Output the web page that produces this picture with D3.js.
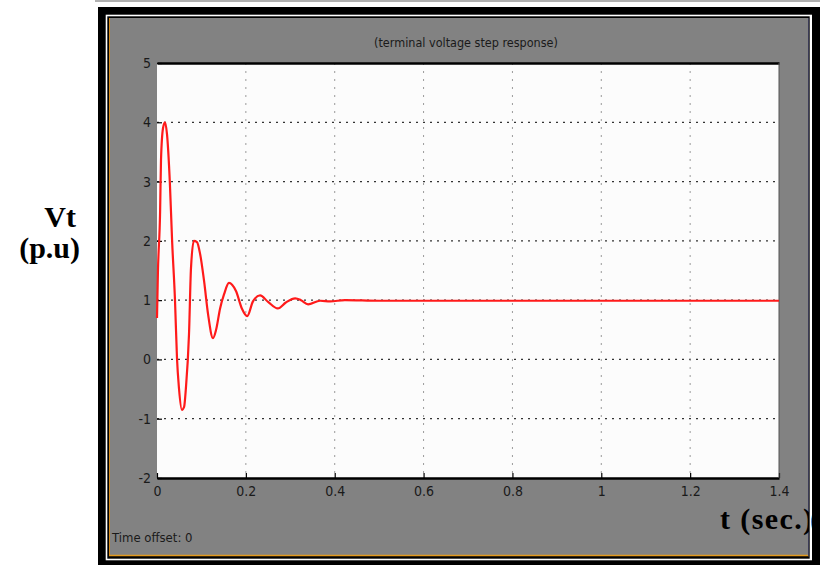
<!DOCTYPE html>
<html>
<head>
<meta charset="utf-8">
<script src="https://cdn.jsdelivr.net/npm/d3@7"></script>
<style>
  html, body { margin: 0; padding: 0; background: #ffffff; }
  svg { display: block; }
</style>
</head>
<body>
<svg id="chart" width="820" height="565"></svg>
<script>
// ---- data ----
const timeValues = [0, 0.002, 0.007, 0.009, 0.0135, 0.018, 0.0225, 0.029, 0.034, 0.0405, 0.045, 0.0495,
  0.056, 0.061, 0.065, 0.072, 0.0765, 0.083, 0.09, 0.097, 0.106, 0.115, 0.126, 0.133, 0.142, 0.151,
  0.162, 0.169, 0.178, 0.191, 0.203, 0.216, 0.232, 0.25, 0.272, 0.29, 0.311, 0.324, 0.34, 0.367,
  0.39, 0.423, 0.5, 0.8, 1.1, 1.4];
const voltageValues = [0.7, 1.45, 2.5, 3.36, 3.9, 4.0, 3.8, 2.97, 2.0, 1.0, 0.02, -0.49,
  -0.85, -0.8, -0.49, 0.42, 1.54, 2.0, 1.98, 1.78, 1.32, 0.76, 0.36, 0.5, 0.86, 1.1,
  1.29, 1.26, 1.15, 0.86, 0.73, 0.98, 1.08, 0.97, 0.86, 0.96, 1.03, 1.0, 0.93, 0.99,
  0.98, 1.0, 0.99, 0.99, 0.99, 0.99];
const xTicks = [0, 0.2, 0.4, 0.6, 0.8, 1, 1.2, 1.4];
const xTickLabels = ["0", "0.2", "0.4", "0.6", "0.8", "1", "1.2", "1.4"];
const yTicks = [-2, -1, 0, 1, 2, 3, 4, 5];
const yTickLabels = ["-2", "-1", "0", "1", "2", "3", "4", "5"];
const titleText = "(terminal voltage step response)";
const offsetText = "Time offset:  0";
const yLabelLines = ["Vt", "(p.u)"];
const xLabelText = "t (sec.)";

// ---- layout ----
const svg = d3.select("#chart");
const plot = { left: 157, right: 779, top: 63, bottom: 478 };

const x = d3.scaleLinear().domain([0, 1.4]).range([plot.left, plot.right]);
const y = d3.scaleLinear().domain([-2, 5]).range([plot.bottom, plot.top]);

// top thin gray strip
svg.append("rect").attr("x", 95).attr("y", 0).attr("width", 725).attr("height", 2).attr("fill", "#b0b0b0");

// outer black frame
svg.append("rect").attr("x", 98).attr("y", 7).attr("width", 722).attr("height", 558).attr("fill", "#000");
// white inner rule
svg.append("rect").attr("x", 106.5).attr("y", 15.5).attr("width", 705).attr("height", 544)
  .attr("fill", "none").attr("stroke", "#fff").attr("stroke-width", 1.6);
// gray panel
svg.append("rect").attr("x", 109).attr("y", 18).attr("width", 700).attr("height", 538).attr("fill", "#828282");
// orange edges
svg.append("line").attr("x1", 109.5).attr("x2", 109.5).attr("y1", 18).attr("y2", 556)
  .attr("stroke", "#d98c1a").attr("stroke-width", 1);
svg.append("line").attr("x1", 109).attr("x2", 809).attr("y1", 555.5).attr("y2", 555.5)
  .attr("stroke", "#e39a1f").attr("stroke-width", 1.5);
svg.append("line").attr("x1", 808.5).attr("x2", 808.5).attr("y1", 18).attr("y2", 556)
  .attr("stroke", "#3a3a55").attr("stroke-width", 1);

// plot background
svg.append("rect").attr("x", plot.left).attr("y", plot.top)
  .attr("width", plot.right - plot.left).attr("height", plot.bottom - plot.top)
  .attr("fill", "#fcfcfc");

// grid lines
const grid = svg.append("g");
grid.selectAll("line.h").data(yTicks.filter(d => d > -2 && d < 5)).enter().append("line")
  .attr("x1", plot.left).attr("x2", plot.right)
  .attr("y1", d => y(d)).attr("y2", d => y(d))
  .attr("stroke", "#333").attr("stroke-width", 1.3).attr("stroke-dasharray", "2,5");
grid.selectAll("line.v").data(xTicks.filter(d => d > 0 && d < 1.4)).enter().append("line")
  .attr("x1", d => x(d)).attr("x2", d => x(d))
  .attr("y1", plot.top).attr("y2", plot.bottom)
  .attr("stroke", "#9a9a9a").attr("stroke-width", 1).attr("stroke-dasharray", "2,6");

// axes with ticks
const tickFont = "'Liberation Sans Narrow','DejaVu Sans Condensed',sans-serif";
const xAxis = d3.axisBottom(x).tickValues(xTicks).tickFormat((d, i) => xTickLabels[i])
  .tickSizeInner(-5).tickSizeOuter(0).tickPadding(8);
const gx = svg.append("g").attr("transform", `translate(0,${plot.bottom})`).call(xAxis);
gx.select(".domain").attr("stroke", "#000").attr("stroke-width", 2.5);
gx.selectAll(".tick line").attr("stroke", "#000").attr("stroke-width", 1.2);
gx.selectAll(".tick text").attr("font-family", tickFont)
  .attr("font-size", 14).attr("fill", "#1a1a1a");

const gxTop = svg.append("g").attr("transform", `translate(0,${plot.top})`)
  .call(d3.axisTop(x).tickValues([]).tickSizeOuter(0));
gxTop.select(".domain").attr("stroke", "#000").attr("stroke-width", 2.5);

const yAxis = d3.axisLeft(y).tickValues(yTicks).tickFormat((d, i) => yTickLabels[i])
  .tickSizeInner(-5).tickSizeOuter(0).tickPadding(6);
const gy = svg.append("g").attr("transform", `translate(${plot.left},0)`).call(yAxis);
gy.select(".domain").attr("stroke", "none");
gy.selectAll(".tick line").attr("stroke", "#000").attr("stroke-width", 1.2);
gy.selectAll(".tick text").attr("font-family", tickFont)
  .attr("font-size", 14).attr("fill", "#1a1a1a");

// right edge shadow
svg.append("line").attr("x1", plot.right).attr("x2", plot.right).attr("y1", plot.top).attr("y2", plot.bottom)
  .attr("stroke", "#555").attr("stroke-width", 1);

// data line
const series = timeValues.map((t, i) => ({ t: t, v: voltageValues[i] }));
const line = d3.line().x(d => x(d.t)).y(d => y(d.v)).curve(d3.curveMonotoneX);
svg.append("path").datum(series).attr("d", line)
  .attr("fill", "none").attr("stroke", "#ff1a1a").attr("stroke-width", 2.2)
  .attr("stroke-linejoin", "round");

// title
svg.append("text").attr("x", 466).attr("y", 47)
  .attr("text-anchor", "middle").attr("font-family", "'DejaVu Sans Condensed','Liberation Sans Narrow',sans-serif")
  .attr("font-size", 12.5).attr("fill", "#1a1a1a").text(titleText);

// time offset
svg.append("text").attr("x", 112).attr("y", 542)
  .attr("font-family", tickFont)
  .attr("font-size", 13).attr("fill", "#1a1a1a").text(offsetText);

// outer axis labels (bold serif)
const serif = "'Liberation Serif','Times New Roman',serif";
svg.append("text").attr("x", 76).attr("y", 227).attr("text-anchor", "end")
  .attr("font-family", serif).attr("font-weight", "bold")
  .attr("font-size", 30).attr("fill", "#000").text(yLabelLines[0]);
svg.append("text").attr("x", 80).attr("y", 258).attr("text-anchor", "end")
  .attr("font-family", serif).attr("font-weight", "bold")
  .attr("font-size", 30).attr("fill", "#000").text(yLabelLines[1]);

svg.append("text").attr("x", 720).attr("y", 529)
  .attr("font-family", serif).attr("font-weight", "bold").attr("letter-spacing", 1.4)
  .attr("font-size", 30).attr("fill", "#000").text(xLabelText);

// right-side black border overlays the end of the label like the reference
svg.append("rect").attr("x", 812).attr("y", 7).attr("width", 8).attr("height", 558).attr("fill", "#000");
svg.append("line").attr("x1", 810.5).attr("x2", 810.5).attr("y1", 15.5).attr("y2", 559.5)
  .attr("stroke", "#fff").attr("stroke-width", 1.6);
</script>
</body>
</html>
